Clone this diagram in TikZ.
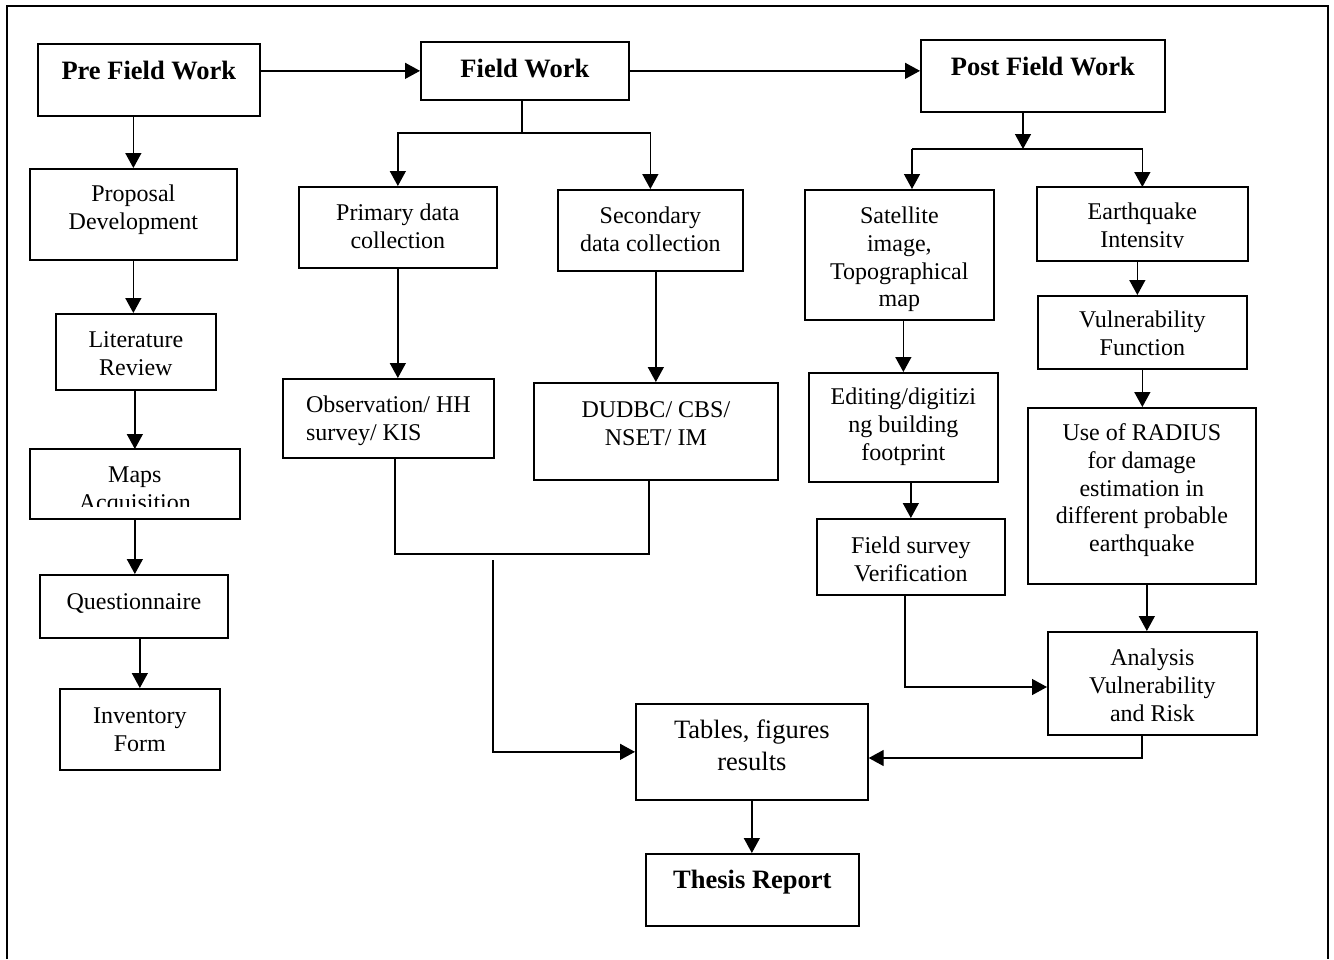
\documentclass[tikz,border=0pt]{standalone}
\usepackage{fontspec}
\setmainfont{Liberation Serif}
\usetikzlibrary{arrows.meta}

\begin{document}
\begin{tikzpicture}[
  x=1pt, y=-1pt,
  every node/.style={font=\fontsize{24}{27.6}\selectfont},
  box/.style={draw, line width=1.7pt, anchor=north west, align=center, inner ysep=0pt, inner xsep=6pt},
  head/.style={box, font=\fontsize{26.5}{30}\selectfont\bfseries},
  arrow/.style={-{Triangle[length=15pt,width=16pt]}, line width=1.4pt},
  link/.style={line width=1.4pt},
  frame/.style={line width=2.3pt}
]
\useasboundingbox (0,0) rectangle (1334,959);

% Outer frame
\draw[frame] (7,959) -- (7,6) -- (1328,6) -- (1328,959);

% Main stages
\node[head, minimum width=222pt, text height=36pt, text depth=36pt] (pre) at (37,43) {Pre Field Work};
\node[head, minimum width=208pt, text height=36pt, text depth=22pt] (field) at (420,41) {Field Work};
\node[head, minimum width=244pt, text height=36pt, text depth=36pt] (post) at (920,39) {Post Field Work};

% Pre field work column
\node[box, minimum width=207pt, text height=60.6pt, text depth=30.4pt] (prop) at (29,168) {Proposal\\Development};
\node[box, minimum width=160pt, text height=61.6pt, text depth=14.4pt] (lit) at (55,313) {Literature\\Review};
\begin{scope}
  \clip (30,449) rectangle (238,506);
  \node[box, draw=none, minimum width=208pt, text height=60.6pt, text depth=7.4pt] (maps) at (30,449) {Maps\\Acquisition};
\end{scope}
\draw[line width=1.7pt] (maps.north west) rectangle (maps.south east);
\node[box, minimum width=188pt, text height=35pt, text depth=28pt] (quest) at (39,574) {Questionnaire};
\node[box, minimum width=160pt, text height=62.6pt, text depth=18.4pt] (inv) at (59,688) {Inventory\\Form};

% Field work column
\node[box, minimum width=198pt, text height=61.6pt, text depth=19.4pt] (prim) at (298,186) {Primary data\\collection};
\node[box, minimum width=185pt, text height=61.6pt, text depth=19.4pt] (sec) at (557,189) {Secondary\\data collection};
\node[box, align=left, minimum width=211pt, text height=61.6pt, text depth=17.4pt] (obs) at (282,378) {Observation/ HH\\survey/ KIS};
\node[box, minimum width=244pt, text height=62.6pt, text depth=34.4pt] (dud) at (533,382) {DUDBC/ CBS/\\NSET/ IM};

% Post field work column
\node[box, minimum width=189pt, text height=116.8pt, text depth=13.2pt] (sat) at (804,189) {Satellite\\image,\\Topographical\\map};
\node[box, minimum width=189pt, text height=87.2pt, text depth=21.8pt] (edit) at (808,372) {Editing/digitizi\\ng building\\footprint};
\node[box, minimum width=188pt, text height=62.6pt, text depth=13.4pt] (fsv) at (816,518) {Field survey\\Verification};
\begin{scope}
  \clip (1037,187) rectangle (1246,247);
  \node[box, draw=none, minimum width=209pt, text height=59.6pt, text depth=12.4pt] (eq) at (1037,187) {Earthquake\\Intensity};
\end{scope}
\draw[line width=1.7pt] (eq.north west) rectangle (eq.south east);
\node[box, minimum width=209pt, text height=59.6pt, text depth=13.4pt] (vf) at (1037,295) {Vulnerability\\Function};
\node[box, minimum width=228pt, text height=143.4pt, text depth=32.6pt] (rad) at (1027,407) {Use of RADIUS\\for damage\\estimation in\\different probable\\earthquake};
\node[box, minimum width=209pt, text height=89.2pt, text depth=13.8pt] (ana) at (1047,631) {Analysis\\Vulnerability\\and Risk};

% Results
\node[box, font=\fontsize{26.5}{32}\selectfont, minimum width=232pt, text height=67pt, text depth=29pt] (tab) at (635,703) {Tables, figures\\results};
\node[head, minimum width=213pt, text height=35pt, text depth=37pt] (thesis) at (645,853) {Thesis Report};

% Turning points
\coordinate (fsplit) at (522,133);
\coordinate (obsdud) at (395,554);
\coordinate (dudobs) at (649,554);
\coordinate (tabin) at (493,560);
\coordinate (psplit) at (1023,149);
\coordinate (satin) at (912,149);
\coordinate (fsvturn) at (905,687);
\coordinate (anaturn) at (1142,758);

% Arrows between stages
\draw[arrow] (field.west -| pre.east) -- (field.west);
\draw[arrow] (field.east) -- (field.east -| post.west);

% Pre field work flow
\draw[arrow] (pre.south -| prop.north) -- (prop.north);
\draw[arrow] (prop.south) -- (prop.south |- lit.north);
\draw[arrow] (maps.north |- lit.south) -- (maps.north);
\draw[arrow] (maps.south) -- (maps.south |- quest.north);
\draw[arrow] (inv.north |- quest.south) -- (inv.north);

% Field work flow
\draw[link] (field.south -| fsplit) -- (fsplit);
\draw[arrow] (fsplit) -| (prim.north);
\draw[arrow] (fsplit) -| (sec.north);
\draw[arrow] (prim.south) -- (prim.south |- obs.north);
\draw[arrow] (dud.north |- sec.south) -- (dud.north);
\draw[link] (obs.south -| obsdud) -- (obsdud) -- (dudobs) -- (dud.south -| dudobs);
\draw[arrow] (tabin) |- (tab.west);

% Post field work flow
\draw[arrow] (post.south -| psplit) -- (psplit);
\draw[link] (psplit) -- (satin);
\draw[arrow] (satin) -- (satin |- sat.north);
\draw[arrow] (psplit) -| (eq.north);
\draw[arrow] (edit.north |- sat.south) -- (edit.north);
\draw[arrow] (fsv.north |- edit.south) -- (fsv.north);
\draw[arrow] ([xshift=-5pt]eq.south) -- ([xshift=-5pt]eq.south |- vf.north);
\draw[arrow] (vf.south) -- (vf.south |- rad.north);
\draw[arrow] ([xshift=5pt]rad.south) -- ([xshift=5pt]rad.south |- ana.north);
\draw[arrow] (fsv.south -| fsvturn) -- (fsvturn) -- (fsvturn -| ana.west);
\draw[arrow] (ana.south -| anaturn) -- (anaturn) -- (anaturn -| tab.east);

% Results flow
\draw[arrow] (tab.south) -- (tab.south |- thesis.north);
\end{tikzpicture}
\end{document}
